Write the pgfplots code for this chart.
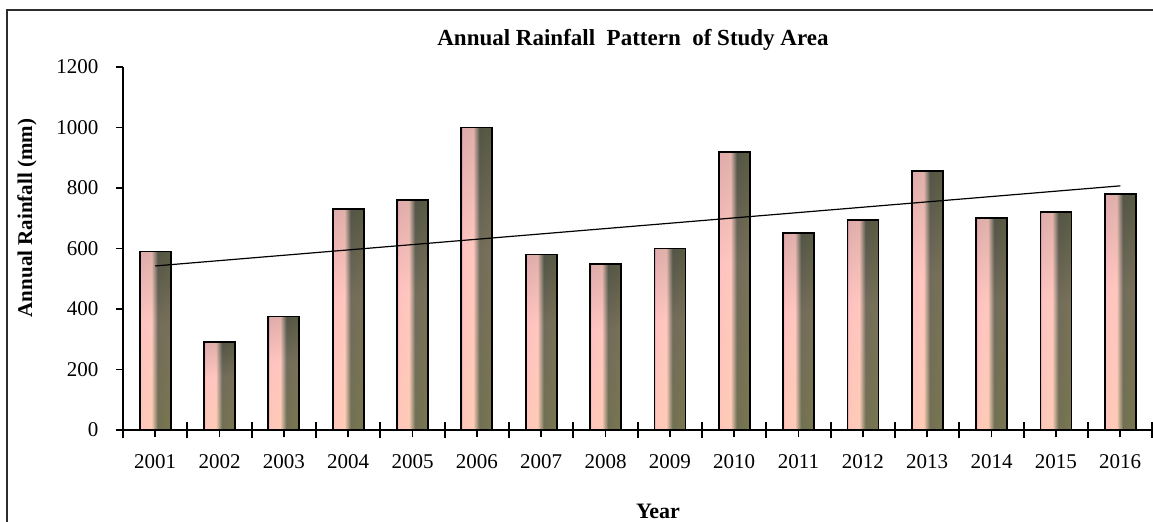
\documentclass[border=0pt]{standalone}
\usepackage{fontspec}
\setmainfont{Liberation Serif}
\usepackage{pgfplots}
\usepackage{pgfplotstable}
\pgfplotsset{compat=1.18}

% side-to-side face of each bar: light pink on the left, dark olive on the right
% (the path's box maps onto 25bp--75bp of the shading)
\pgfdeclarehorizontalshading{barface}{100bp}{%
  rgb(0bp)=(0.80,0.60,0.60);
  rgb(25bp)=(0.80,0.60,0.60);
  rgb(27bp)=(1.00,0.75,0.75);
  rgb(44bp)=(1.00,0.78,0.74);
  rgb(49bp)=(0.66,0.58,0.52);
  rgb(54bp)=(0.34,0.35,0.28);
  rgb(75bp)=(0.38,0.38,0.25);
  rgb(100bp)=(0.38,0.38,0.25)}
% top-to-bottom tint laid over the face
\pgfdeclareverticalshading{bartint}{100bp}{%
  rgb(0bp)=(1.00,0.92,0.60);
  rgb(25bp)=(1.00,0.92,0.60);
  rgb(55bp)=(1.00,0.80,0.80);
  rgb(75bp)=(0.25,0.25,0.28);
  rgb(100bp)=(0.25,0.25,0.28)}

\pgfplotstableread{
n year rain
1 2001 590
2 2002 290
3 2003 375
4 2004 730
5 2005 760
6 2006 1000
7 2007 580
8 2008 550
9 2009 600
10 2010 920
11 2011 650
12 2012 695
13 2013 855
14 2014 700
15 2015 720
16 2016 780
}\raintable

\begin{document}
\begin{tikzpicture}
\useasboundingbox (-61.5pt,-46pt) rectangle (515pt,215pt);
% outer chart frame
\draw[line width=1pt, color={rgb,255:red,45;green,45;blue,45}]
  (-57.75pt,-60pt) -- (-57.75pt,209.75pt) -- (530pt,209.75pt);

\begin{axis}[
  at={(0,0)}, anchor=south west,
  scale only axis, width=514.75pt, height=181.5pt,
  xmin=2000.5, xmax=2016.5, ymin=0, ymax=1200,
  axis x line*=bottom, axis y line*=left,
  axis line style={line width=0.9pt, black, -},
  every tick/.style={black, line width=0.9pt},
  xtick={2001,2002,...,2016}, ytick={0,200,...,1200},
  xtick align=outside, ytick align=outside,
  major tick length=3.75pt,
  extra x ticks={2000.5,2001.5,...,2016.5},
  extra x tick labels={},
  extra x tick style={xtick align=center, major tick length=8pt},
  ticklabel style={font=\fontsize{10.5}{12}\selectfont},
  /pgf/number format/assume math mode=true,
  /pgf/number format/1000 sep={},
  xticklabel style={yshift=-5pt},
  yticklabel style={xshift=-5pt},
  clip=false,
]
% one bar per year, so that each bar carries its own shading
\pgfplotsinvokeforeach{2001,...,2016}{
  \addplot[ybar, bar width=15.5pt, draw=none, shading=barface,
    x filter/.expression={abs(x-#1)<0.1 ? x : nan}]
    table[x=year, y=rain]{\raintable};
  \addplot[ybar, bar width=15.5pt, draw=black, line width=0.9pt,
    shading=bartint, fill opacity=0.16,
    x filter/.expression={abs(x-#1)<0.1 ? x : nan}]
    table[x=year, y=rain]{\raintable};
}
% linear trend through the yearly totals
\addplot[black, line width=0.6pt, no markers]
  table[x=year, y={create col/linear regression={x=n, y=rain}}]{\raintable};
\end{axis}

\node[font=\bfseries\fontsize{11.5}{13}\selectfont] at (255pt,195pt)
  {Annual Rainfall\enspace Pattern\enspace of Study Area};
\node[rotate=90, font=\bfseries\fontsize{10.5}{12}\selectfont] at (-48pt,106pt)
  {Annual Rainfall (mm)};
\node[font=\bfseries\fontsize{11}{13}\selectfont] at (267.5pt,-40.5pt) {Year};
\end{tikzpicture}
\end{document}
